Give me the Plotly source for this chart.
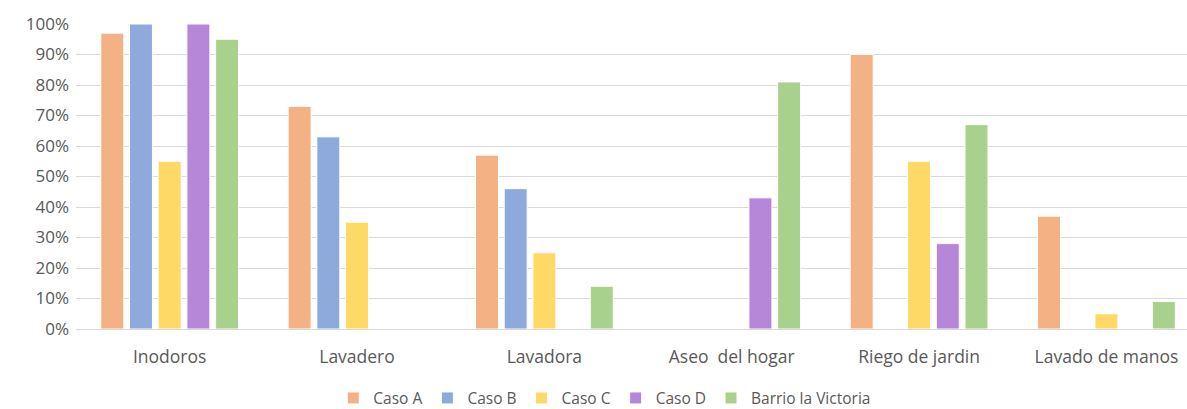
import plotly.graph_objects as go

categories = ["Inodoros", "Lavadero", "Lavadora", "Aseo  del hogar", "Riego de jardin", "Lavado de manos"]
caso_a = [0.97, 0.73, 0.57, None, 0.90, 0.37]
caso_b = [1.00, 0.63, 0.46, None, None, None]
caso_c = [0.55, 0.35, 0.25, None, 0.55, 0.05]
caso_d = [1.00, None, None, 0.43, 0.28, None]
barrio = [0.95, None, 0.14, 0.81, 0.67, 0.09]

series_names = ["Caso A", "Caso B", "Caso C", "Caso D", "Barrio la Victoria"]
series_values = [caso_a, caso_b, caso_c, caso_d, barrio]
colors = ["#F4B183", "#8EA9DB", "#FFD966", "#B686D9", "#A9D18E"]

fig = go.Figure()
for name, vals, col in zip(series_names, series_values, colors):
    fig.add_trace(go.Bar(
        x=categories, y=vals, name=name,
        marker=dict(color=col, line=dict(color="white", width=1)),
    ))

font_family = "Open Sans, sans-serif"
fig.update_layout(
    width=1187, height=409,
    margin=dict(l=76, r=0, t=24, b=80),
    paper_bgcolor="white", plot_bgcolor="white",
    barmode="group", bargap=0.234, bargroupgap=0.2,
    font=dict(family=font_family, size=16, color="#595959"),
    showlegend=True,
    legend=dict(orientation="h", xref="container", x=0.5095, xanchor="center",
                yref="container", y=0.026, yanchor="middle",
                font=dict(size=15.5, color="#595959"), itemwidth=30, traceorder="normal"),
    xaxis=dict(range=[-0.5, 5.43], showgrid=False, showline=False, ticks="", ticklabelstandoff=15,
               tickfont=dict(size=17.5, color="#595959")),
    yaxis=dict(range=[0, 1.0], dtick=0.1, tickformat=".0%", showgrid=True, gridcolor="#D9D9D9",
               gridwidth=1, zeroline=True, zerolinecolor="#D9D9D9", zerolinewidth=1,
               showline=False, ticks="", ticklabelstandoff=6,
               tickfont=dict(size=17, color="#595959")),
)
fig.write_html("out.html")
